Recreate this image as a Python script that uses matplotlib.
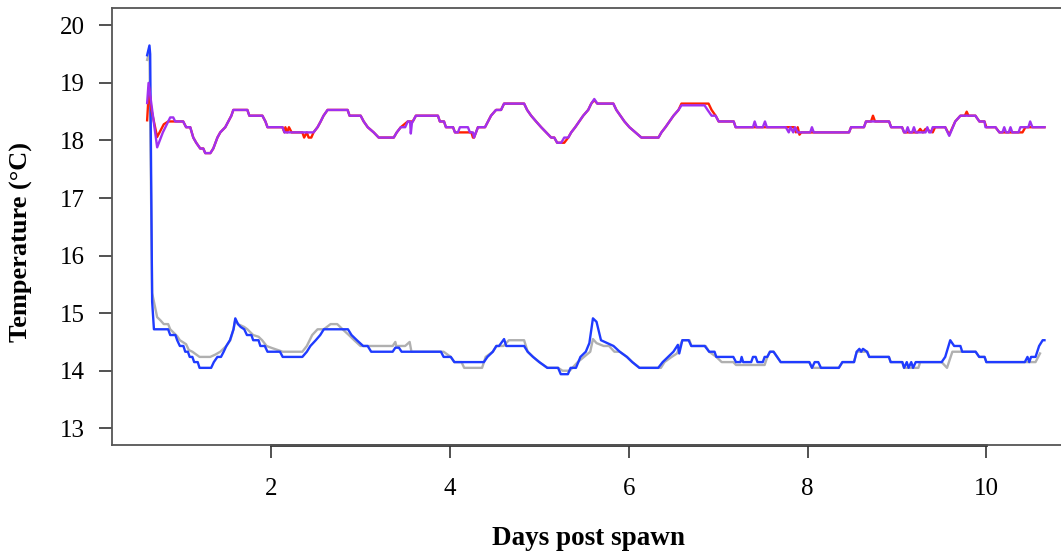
import matplotlib
matplotlib.use("Agg")
import matplotlib.pyplot as plt

# Logger traces as (days post spawn, temperature C) pairs
# warm treatment, two tanks
red_pts = [
    (0.614, 18.35), (0.635, 18.92), (0.66, 18.55), (0.726, 18.06), (0.80, 18.28), (0.85, 18.33),
    (1.017, 18.33), (1.05, 18.23), (1.096, 18.23), (1.130, 18.05), (1.163, 17.96), (1.208, 17.86),
    (1.242, 17.86), (1.264, 17.78), (1.321, 17.78), (1.354, 17.86), (1.40, 18.05), (1.432, 18.14),
    (1.488, 18.23), (1.522, 18.33), (1.556, 18.43), (1.578, 18.53), (1.735, 18.53), (1.757, 18.43),
    (1.903, 18.43), (1.937, 18.33), (1.960, 18.23), (2.128, 18.23), (2.150, 18.14), (2.16, 18.23),
    (2.18, 18.14), (2.20, 18.23), (2.23, 18.14), (2.35, 18.14), (2.37, 18.05), (2.40, 18.14),
    (2.42, 18.05), (2.45, 18.05), (2.475, 18.14), (2.52, 18.23), (2.555, 18.33), (2.587, 18.43),
    (2.632, 18.53), (2.856, 18.53), (2.878, 18.43), (3.002, 18.43), (3.036, 18.33), (3.081, 18.23),
    (3.148, 18.14), (3.204, 18.05), (3.372, 18.05), (3.406, 18.14), (3.451, 18.23), (3.529, 18.33),
    (3.585, 18.33), (3.620, 18.43), (3.866, 18.43), (3.888, 18.33), (3.934, 18.33), (3.956, 18.23),
    (4.035, 18.23), (4.057, 18.14), (4.240, 18.14), (4.258, 18.05), (4.270, 18.05), (4.292, 18.14),
    (4.314, 18.23), (4.393, 18.23), (4.426, 18.33), (4.46, 18.43), (4.516, 18.53), (4.572, 18.53),
    (4.606, 18.64), (4.830, 18.64), (4.864, 18.53), (4.909, 18.43), (4.964, 18.33), (5.021, 18.23),
    (5.077, 18.14), (5.133, 18.05), (5.167, 18.05), (5.20, 17.96), (5.279, 17.96), (5.324, 18.05),
    (5.357, 18.14), (5.402, 18.23), (5.447, 18.33), (5.491, 18.43), (5.547, 18.53), (5.581, 18.64),
    (5.615, 18.70), (5.649, 18.64), (5.828, 18.64), (5.862, 18.53), (5.907, 18.43), (5.952, 18.33),
    (6.008, 18.23), (6.075, 18.14), (6.142, 18.05), (6.333, 18.05), (6.366, 18.14), (6.411, 18.23),
    (6.456, 18.33), (6.501, 18.43), (6.557, 18.53), (6.59, 18.64), (6.893, 18.64), (6.927, 18.53),
    (6.972, 18.43), (7.006, 18.33), (7.174, 18.33), (7.196, 18.23), (7.85, 18.23), (7.87, 18.14),
    (7.89, 18.23), (7.91, 18.10), (7.93, 18.14), (8.464, 18.14), (8.487, 18.23), (8.631, 18.23),
    (8.654, 18.33), (8.71, 18.33), (8.732, 18.43), (8.755, 18.33), (8.912, 18.33), (8.935, 18.23),
    (9.057, 18.23), (9.08, 18.14), (9.23, 18.14), (9.26, 18.20), (9.29, 18.14), (9.32, 18.20),
    (9.40, 18.14), (9.427, 18.23), (9.540, 18.23), (9.585, 18.10), (9.652, 18.33), (9.710, 18.43),
    (9.76, 18.43), (9.78, 18.50), (9.80, 18.43), (9.877, 18.43), (9.922, 18.33), (9.979, 18.33),
    (10.00, 18.23), (10.102, 18.23), (10.146, 18.14), (10.404, 18.14), (10.437, 18.23), (10.650, 18.23),
]

purple_pts = [
    (0.614, 18.65), (0.63, 19.00), (0.726, 17.88), (0.79, 18.14), (0.872, 18.40), (0.906, 18.40),
    (0.928, 18.33), (1.017, 18.33), (1.05, 18.23), (1.096, 18.23), (1.130, 18.05), (1.163, 17.96),
    (1.208, 17.86), (1.242, 17.86), (1.264, 17.78), (1.321, 17.78), (1.354, 17.86), (1.40, 18.05),
    (1.432, 18.14), (1.488, 18.23), (1.522, 18.33), (1.556, 18.43), (1.578, 18.53), (1.735, 18.53),
    (1.757, 18.43), (1.903, 18.43), (1.937, 18.33), (1.960, 18.23), (2.128, 18.23), (2.150, 18.14),
    (2.475, 18.14), (2.52, 18.23), (2.555, 18.33), (2.587, 18.43), (2.632, 18.53), (2.856, 18.53),
    (2.878, 18.43), (3.002, 18.43), (3.036, 18.33), (3.081, 18.23), (3.148, 18.14), (3.204, 18.05),
    (3.372, 18.05), (3.406, 18.14), (3.451, 18.23), (3.50, 18.23), (3.529, 18.33), (3.555, 18.33),
    (3.563, 18.12), (3.575, 18.30), (3.585, 18.33), (3.620, 18.43), (3.866, 18.43), (3.888, 18.33),
    (3.934, 18.33), (3.956, 18.23), (4.035, 18.23), (4.057, 18.14), (4.09, 18.14), (4.112, 18.23),
    (4.202, 18.23), (4.224, 18.14), (4.258, 18.14), (4.270, 18.05), (4.292, 18.14), (4.314, 18.23),
    (4.393, 18.23), (4.426, 18.33), (4.46, 18.43), (4.516, 18.53), (4.572, 18.53), (4.606, 18.64),
    (4.830, 18.64), (4.864, 18.53), (4.909, 18.43), (4.964, 18.33), (5.021, 18.23), (5.077, 18.14),
    (5.133, 18.05), (5.167, 18.05), (5.20, 17.96), (5.245, 17.96), (5.279, 18.05), (5.324, 18.05),
    (5.357, 18.14), (5.402, 18.23), (5.447, 18.33), (5.491, 18.43), (5.547, 18.53), (5.581, 18.64),
    (5.615, 18.72), (5.649, 18.64), (5.828, 18.64), (5.862, 18.53), (5.907, 18.43), (5.952, 18.33),
    (6.008, 18.23), (6.075, 18.14), (6.142, 18.05), (6.333, 18.05), (6.366, 18.14), (6.411, 18.23),
    (6.456, 18.33), (6.501, 18.43), (6.557, 18.53), (6.59, 18.61), (6.848, 18.61), (6.882, 18.53),
    (6.927, 18.43), (6.972, 18.43), (7.006, 18.33), (7.174, 18.33), (7.196, 18.23), (7.39, 18.23),
    (7.409, 18.33), (7.43, 18.23), (7.50, 18.23), (7.524, 18.33), (7.545, 18.23), (7.757, 18.23),
    (7.79, 18.14), (7.81, 18.23), (7.84, 18.14), (7.86, 18.23), (7.89, 18.14), (8.03, 18.14),
    (8.049, 18.23), (8.07, 18.14), (8.464, 18.14), (8.487, 18.23), (8.631, 18.23), (8.654, 18.33),
    (8.912, 18.33), (8.935, 18.23), (9.057, 18.23), (9.08, 18.14), (9.10, 18.14), (9.12, 18.23),
    (9.14, 18.14), (9.17, 18.14), (9.19, 18.23), (9.21, 18.14), (9.32, 18.14), (9.34, 18.23),
    (9.36, 18.14), (9.38, 18.14), (9.40, 18.23), (9.540, 18.23), (9.585, 18.08), (9.652, 18.33),
    (9.710, 18.43), (9.877, 18.43), (9.922, 18.33), (9.979, 18.33), (9.990, 18.23), (10.102, 18.23),
    (10.146, 18.14), (10.18, 18.14), (10.20, 18.23), (10.22, 18.14), (10.25, 18.14), (10.27, 18.23),
    (10.29, 18.14), (10.36, 18.14), (10.38, 18.23), (10.47, 18.23), (10.49, 18.33), (10.515, 18.23),
    (10.650, 18.23),
]

# ambient treatment, two tanks
gray_pts = [
    (0.614, 19.40), (0.64, 19.55), (0.67, 15.35), (0.726, 14.93), (0.76, 14.88), (0.80, 14.81),
    (0.849, 14.81), (0.872, 14.72), (0.95, 14.60), (0.98, 14.53), (1.05, 14.46), (1.08, 14.36),
    (1.12, 14.33), (1.20, 14.24), (1.32, 14.24), (1.376, 14.28), (1.432, 14.33), (1.50, 14.43),
    (1.544, 14.53), (1.58, 14.72), (1.60, 14.88), (1.63, 14.81), (1.70, 14.76), (1.735, 14.72),
    (1.80, 14.62), (1.86, 14.59), (1.90, 14.53), (1.95, 14.43), (2.00, 14.40), (2.13, 14.33),
    (2.35, 14.33), (2.40, 14.43), (2.46, 14.62), (2.52, 14.72), (2.59, 14.72), (2.666, 14.81),
    (2.74, 14.81), (2.80, 14.72), (2.87, 14.62), (2.93, 14.53), (3.00, 14.43), (3.36, 14.43),
    (3.39, 14.50), (3.40, 14.43), (3.50, 14.43), (3.55, 14.50), (3.57, 14.33), (3.93, 14.33),
    (4.01, 14.24), (4.05, 14.15), (4.13, 14.15), (4.16, 14.05), (4.36, 14.05), (4.40, 14.24),
    (4.48, 14.33), (4.52, 14.43), (4.60, 14.43), (4.66, 14.53), (4.83, 14.53), (4.87, 14.33),
    (4.93, 14.24), (5.00, 14.15), (5.09, 14.05), (5.21, 14.05), (5.26, 14.00), (5.34, 14.00),
    (5.37, 14.05), (5.43, 14.15), (5.50, 14.24), (5.57, 14.33), (5.60, 14.55), (5.64, 14.48),
    (5.72, 14.43), (5.78, 14.43), (5.84, 14.33), (5.90, 14.33), (5.98, 14.24), (6.04, 14.15),
    (6.12, 14.05), (6.36, 14.05), (6.40, 14.15), (6.48, 14.24), (6.54, 14.30), (6.60, 14.53),
    (6.68, 14.53), (6.70, 14.43), (6.86, 14.43), (6.90, 14.33), (6.98, 14.24), (7.04, 14.15),
    (7.17, 14.15), (7.20, 14.10), (7.52, 14.10), (7.55, 14.24), (7.58, 14.33), (7.62, 14.33),
    (7.66, 14.24), (7.70, 14.15), (8.02, 14.15), (8.05, 14.05), (8.35, 14.05), (8.39, 14.15),
    (8.52, 14.15), (8.55, 14.33), (8.67, 14.33), (8.69, 14.24), (8.91, 14.24), (8.93, 14.15),
    (9.06, 14.15), (9.08, 14.05), (9.24, 14.05), (9.26, 14.15), (9.50, 14.15), (9.56, 14.05),
    (9.62, 14.33), (9.88, 14.33), (9.92, 14.24), (9.98, 14.24), (10.00, 14.15), (10.55, 14.15),
    (10.60, 14.30),
]

blue_pts = [
    (0.614, 19.48), (0.64, 19.65), (0.648, 19.50), (0.67, 15.20), (0.69, 14.72), (0.849, 14.72),
    (0.872, 14.62), (0.93, 14.62), (0.95, 14.53), (0.98, 14.43), (1.02, 14.43), (1.04, 14.33),
    (1.07, 14.33), (1.09, 14.24), (1.12, 14.24), (1.14, 14.15), (1.18, 14.15), (1.20, 14.05),
    (1.33, 14.05), (1.36, 14.15), (1.40, 14.24), (1.44, 14.24), (1.47, 14.33), (1.50, 14.43),
    (1.54, 14.53), (1.58, 14.72), (1.60, 14.91), (1.63, 14.81), (1.66, 14.76), (1.70, 14.72),
    (1.73, 14.62), (1.78, 14.62), (1.80, 14.53), (1.86, 14.53), (1.88, 14.43), (1.93, 14.43),
    (1.96, 14.33), (2.10, 14.33), (2.13, 14.24), (2.35, 14.24), (2.40, 14.33), (2.44, 14.43),
    (2.50, 14.53), (2.55, 14.62), (2.59, 14.72), (2.86, 14.72), (2.90, 14.62), (2.96, 14.53),
    (3.03, 14.43), (3.08, 14.43), (3.12, 14.33), (3.36, 14.33), (3.39, 14.40), (3.43, 14.40),
    (3.46, 14.33), (3.90, 14.33), (3.93, 14.24), (4.01, 14.24), (4.05, 14.15), (4.38, 14.15),
    (4.42, 14.24), (4.48, 14.33), (4.52, 14.43), (4.55, 14.43), (4.606, 14.55), (4.63, 14.43),
    (4.83, 14.43), (4.87, 14.33), (4.93, 14.24), (5.00, 14.15), (5.09, 14.05), (5.21, 14.05),
    (5.24, 13.94), (5.32, 13.94), (5.35, 14.05), (5.41, 14.05), (5.46, 14.24), (5.52, 14.33),
    (5.56, 14.48), (5.60, 14.91), (5.64, 14.85), (5.69, 14.53), (5.76, 14.48), (5.83, 14.43),
    (5.90, 14.33), (5.98, 14.24), (6.04, 14.15), (6.12, 14.05), (6.33, 14.05), (6.38, 14.15),
    (6.44, 14.24), (6.50, 14.33), (6.55, 14.45), (6.565, 14.30), (6.60, 14.53), (6.67, 14.53),
    (6.70, 14.43), (6.85, 14.43), (6.90, 14.33), (6.96, 14.33), (6.98, 14.24), (7.17, 14.24),
    (7.20, 14.15), (7.25, 14.15), (7.263, 14.24), (7.28, 14.15), (7.37, 14.15), (7.39, 14.24),
    (7.42, 14.24), (7.44, 14.15), (7.50, 14.15), (7.52, 14.24), (7.55, 14.24), (7.58, 14.33),
    (7.62, 14.33), (7.66, 14.24), (7.70, 14.15), (8.02, 14.15), (8.05, 14.05), (8.08, 14.15),
    (8.12, 14.15), (8.15, 14.05), (8.35, 14.05), (8.39, 14.15), (8.52, 14.15), (8.55, 14.33),
    (8.58, 14.38), (8.60, 14.33), (8.62, 14.38), (8.665, 14.33), (8.69, 14.24), (8.91, 14.24),
    (8.93, 14.15), (9.06, 14.15), (9.08, 14.05), (9.11, 14.15), (9.13, 14.05), (9.16, 14.15),
    (9.18, 14.05), (9.21, 14.15), (9.50, 14.15), (9.54, 14.24), (9.596, 14.53), (9.64, 14.43),
    (9.71, 14.43), (9.73, 14.33), (9.88, 14.33), (9.92, 14.24), (9.98, 14.24), (10.00, 14.15),
    (10.43, 14.15), (10.46, 14.24), (10.48, 14.15), (10.50, 14.24), (10.55, 14.24), (10.59, 14.43),
    (10.63, 14.53), (10.65, 14.53),
]

x_ticks = [2, 4, 6, 8, 10]
y_ticks = [13, 14, 15, 16, 17, 18, 19, 20]

plt.rcParams["font.family"] = ["Liberation Serif", "DejaVu Serif"]

fig = plt.figure(figsize=(10.61, 5.55), dpi=100)
ax = fig.add_axes([0.1056, 0.198, 0.91, 0.787])

lw = 1.7
for pts, col in [(gray_pts, "#b0b0b0"), (blue_pts, "#1f3bff"),
                 (red_pts, "#ff2000"), (purple_pts, "#a030f0")]:
    days, temps = zip(*pts)
    ax.plot(days, temps, color=col, lw=lw)

ax.set_xlim(0.2215, 11.02)
ax.set_ylim(12.708, 20.295)
ax.set_xticks(x_ticks)
ax.set_yticks(y_ticks)
ax.tick_params(axis="both", direction="out", length=9.4, width=1.2, color="#333333",
               labelsize=18)
ax.tick_params(axis="x", pad=14)
ax.tick_params(axis="y", pad=10)

for side in ["left", "top", "bottom"]:
    ax.spines[side].set_color("#555555")
    ax.spines[side].set_linewidth(1.3)
ax.spines["right"].set_visible(False)

# R draws the axis line from first to last tick on top of the box
ax.plot([x_ticks[0], x_ticks[-1]], [12.708, 12.708], color="#333333", lw=2,
        clip_on=False)

ax.set_xlabel("Days post spawn", fontsize=19.5, fontweight="bold")
ax.set_ylabel("Temperature (°C)", fontsize=19, fontweight="bold")
ax.xaxis.set_label_coords(0.493, -0.185)
ax.yaxis.set_label_coords(-0.082, 0.465)

fig.savefig("out.png", dpi=100)
